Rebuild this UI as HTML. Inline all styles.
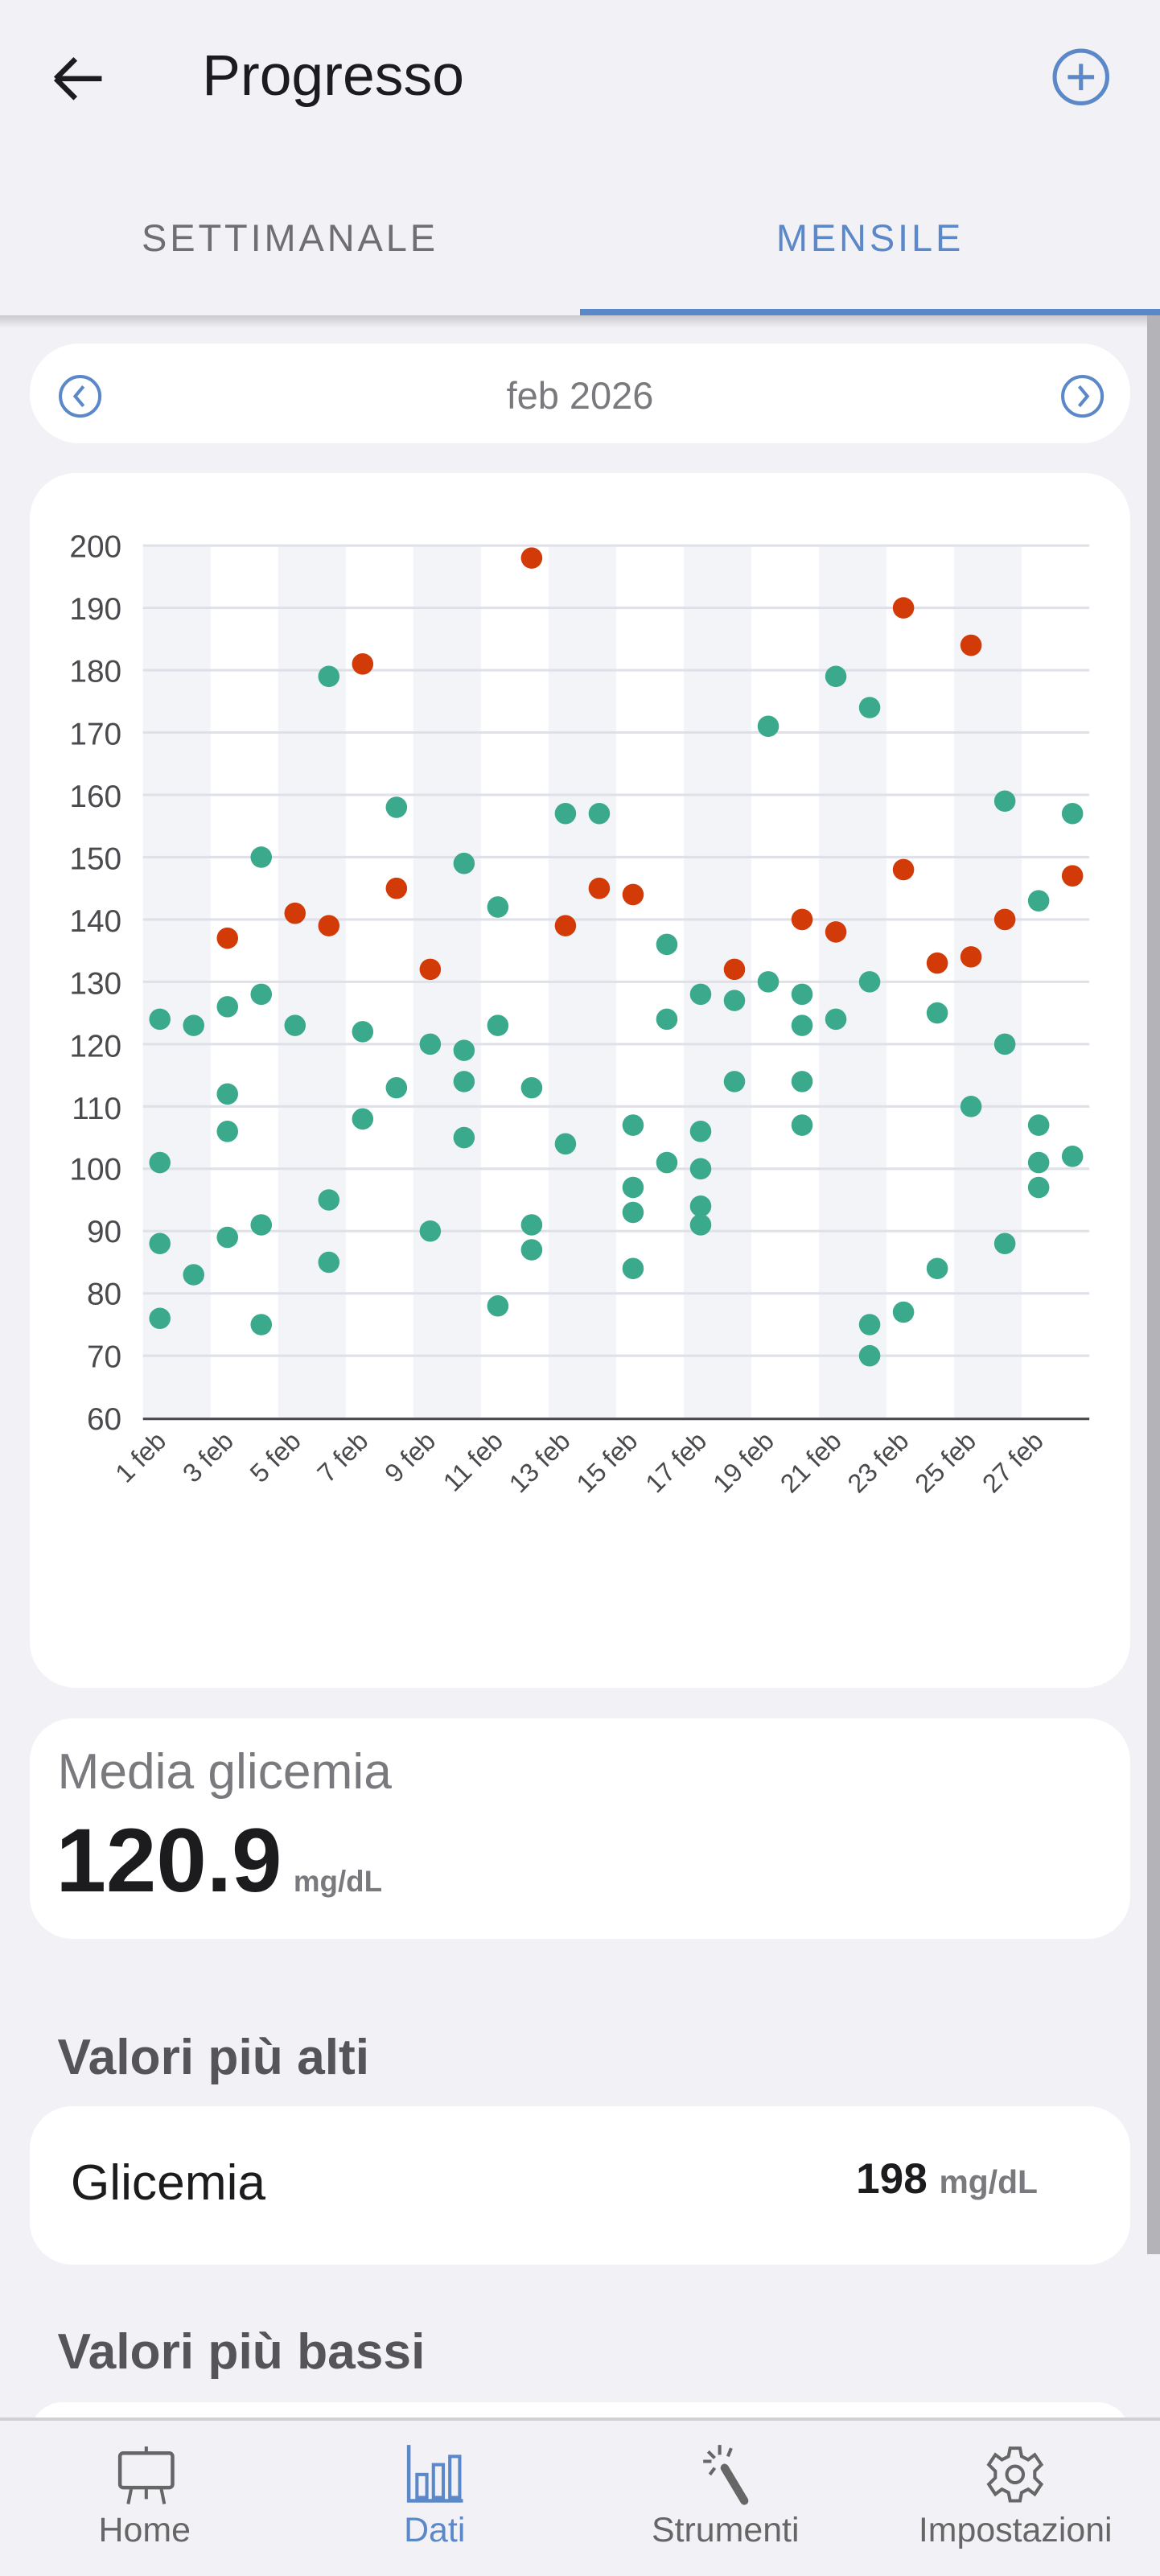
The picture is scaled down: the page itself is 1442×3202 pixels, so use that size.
<!DOCTYPE html>
<html><head><meta charset="utf-8">
<style>
html,body{margin:0;padding:0;width:1442px;height:3202px;overflow:hidden;background:#f2f1f6;}
#w{zoom:2.0425;width:706px;height:1568px;position:relative;font-family:"Liberation Sans",sans-serif;background:#f2f1f6;overflow:hidden;}
.a{position:absolute;}
.card{position:absolute;background:#fff;left:18px;width:670px;}
</style></head><body><div id="w">
<div class="a" style="left:0;top:192px;width:706px;height:8px;background:linear-gradient(#c9c9ce,rgba(242,241,246,0));"></div>
<div class="a" style="left:698px;top:192px;width:8px;height:1180px;background:#b4b4b8;"></div>
<svg class="a" style="left:28px;top:30px" width="40" height="36"><path d="M6 18H34M6 18L18 6M6 18L18 30" stroke="#1c1c1e" stroke-width="3.2" fill="none"/></svg>
<div class="a" style="left:123px;top:26px;font-size:35px;color:#1c1c1e">Progresso</div>
<svg class="a" style="left:640px;top:29px" width="36" height="36"><circle cx="18" cy="18" r="16" stroke="#5b88c9" stroke-width="2.5" fill="none"/><path d="M18 10V26M10 18H26" stroke="#5b88c9" stroke-width="2.5"/></svg>
<div class="a" style="left:0;width:353px;top:131px;text-align:center;font-size:23px;letter-spacing:1.9px;color:#6e6e73">SETTIMANALE</div>
<div class="a" style="left:353px;width:353px;top:131px;text-align:center;font-size:23px;letter-spacing:1.9px;color:#5b88c9">MENSILE</div>
<div class="a" style="left:353px;top:188px;width:353px;height:4px;background:#5b88c9"></div>

<div class="card" style="top:209px;height:61px;border-radius:30px"></div>
<svg class="a" style="left:35px;top:227px" width="28" height="28"><circle cx="14" cy="14" r="12" stroke="#5b88c9" stroke-width="2" fill="none"/><path d="M16 8L11 14L16 20" stroke="#5b88c9" stroke-width="2" fill="none"/></svg>
<svg class="a" style="left:645px;top:227px" width="28" height="28"><circle cx="14" cy="14" r="12" stroke="#5b88c9" stroke-width="2" fill="none"/><path d="M12 8L17 14L12 20" stroke="#5b88c9" stroke-width="2" fill="none"/></svg>
<div class="a" style="left:0;width:706px;top:227px;text-align:center;font-size:23px;color:#7a7a7e">feb 2026</div>

<div class="card" style="top:288px;height:739px;border-radius:28px"></div>
<svg class="a" style="left:0;top:0" width="706" height="1000" id="ch" font-family="Liberation Sans, sans-serif">
<g id="bands"></g><g id="grid"></g>
<g font-size="19" fill="#4a4a4e" text-anchor="end">
<text x="74" y="339">200</text><text x="74" y="377">190</text><text x="74" y="415">180</text><text x="74" y="453">170</text><text x="74" y="491">160</text><text x="74" y="529">150</text><text x="74" y="567">140</text><text x="74" y="605">130</text><text x="74" y="643">120</text><text x="74" y="681">110</text><text x="74" y="718">100</text><text x="74" y="756">90</text><text x="74" y="794">80</text><text x="74" y="832">70</text><text x="74" y="870">60</text>
</g>
<g font-size="16" fill="#4a4a4e" text-anchor="end">
<text transform="translate(102,878) rotate(-45)">1 feb</text>
<text transform="translate(143,878) rotate(-45)">3 feb</text>
<text transform="translate(184,878) rotate(-45)">5 feb</text>
<text transform="translate(225,878) rotate(-45)">7 feb</text>
<text transform="translate(266,878) rotate(-45)">9 feb</text>
<text transform="translate(307,878) rotate(-45)">11 feb</text>
<text transform="translate(348,878) rotate(-45)">13 feb</text>
<text transform="translate(389,878) rotate(-45)">15 feb</text>
<text transform="translate(431,878) rotate(-45)">17 feb</text>
<text transform="translate(472,878) rotate(-45)">19 feb</text>
<text transform="translate(513,878) rotate(-45)">21 feb</text>
<text transform="translate(554,878) rotate(-45)">23 feb</text>
<text transform="translate(595,878) rotate(-45)">25 feb</text>
<text transform="translate(636,878) rotate(-45)">27 feb</text>
</g>
<line x1="87" y1="863.5" x2="663" y2="863.5" stroke="#4a4a4e" stroke-width="1.5"/>
<g id="pts"></g>
</svg>

<div class="card" style="top:1046px;height:134px;border-radius:26px"></div>
<div class="a" style="left:35px;top:1061px;font-size:30.5px;color:#7a7a7e">Media glicemia</div>
<div class="a" style="left:34px;top:1100px;font-size:55px;font-weight:bold;color:#1c1c1e">120.9<span style="font-size:18px;color:#7a7a7e;margin-left:7px">mg/dL</span></div>

<div class="a" style="left:35px;top:1235px;font-size:30.5px;font-weight:bold;color:#555559">Valori più alti</div>
<div class="card" style="top:1282px;height:96px;border-radius:26px"></div>
<div class="a" style="left:43px;top:1311px;font-size:30.5px;color:#1c1c1e">Glicemia</div>
<div class="a" style="left:521px;top:1311px;font-size:26px;font-weight:bold;color:#1c1c1e">198 <span style="font-size:20px;color:#7a7a7e">mg/dL</span></div>
<div class="a" style="left:35px;top:1414px;font-size:30.5px;font-weight:bold;color:#555559">Valori più bassi</div>
<div class="card" style="top:1462px;height:40px;border-radius:26px"></div>

<div class="a" style="left:0;top:1471px;width:706px;height:97px;background:#f2f1f6;border-top:2px solid #d0d0d4"></div>
<svg class="a" style="left:70px;top:1488px" width="38" height="38"><rect x="3" y="5" width="32" height="21" rx="2" stroke="#666" stroke-width="2.2" fill="none"/><path d="M19 1V5M10 26L8 36M28 26L30 36M19 26V33" stroke="#666" stroke-width="2"/></svg>
<svg class="a" style="left:246px;top:1486px" width="38" height="40"><path d="M3 2V36H36" stroke="#5b88c9" stroke-width="2.2" fill="none"/><rect x="8" y="20" width="6" height="14" stroke="#5b88c9" stroke-width="2" fill="none"/><rect x="18" y="14" width="6" height="20" stroke="#5b88c9" stroke-width="2" fill="none"/><rect x="28" y="9" width="6" height="25" stroke="#5b88c9" stroke-width="2" fill="none"/></svg>
<svg class="a" style="left:423px;top:1486px" width="38" height="40"><path d="M18 16L30 36" stroke="#666" stroke-width="5" stroke-linecap="round"/><path d="M15 2V8M22 4L20 9M5 12H10M9 20L12 16M8 6L12 10" stroke="#666" stroke-width="2"/></svg>
<svg class="a" style="left:599px;top:1487px" width="38" height="38"><circle cx="19" cy="19" r="5" stroke="#666" stroke-width="2" fill="none"/><path d="M16 3H22L23 8L27 10L31 7L35 13L31 17V21L35 25L31 31L27 28L23 30L22 35H16L15 30L11 28L7 31L3 25L7 21V17L3 13L7 7L11 10L15 8Z" stroke="#666" stroke-width="2" fill="none"/></svg>
<div class="a" style="left:0;width:176px;top:1528px;text-align:center;font-size:21px;color:#666">Home</div>
<div class="a" style="left:176px;width:177px;top:1528px;text-align:center;font-size:21px;color:#5b88c9">Dati</div>
<div class="a" style="left:353px;width:177px;top:1528px;text-align:center;font-size:21px;color:#666">Strumenti</div>
<div class="a" style="left:530px;width:176px;top:1528px;text-align:center;font-size:21px;color:#666">Impostazioni</div>
</div>
<script>
var NS="http://www.w3.org/2000/svg";
function el(p,t,a){var e=document.createElementNS(NS,t);for(var k in a)e.setAttribute(k,a[k]);document.getElementById(p).appendChild(e);}
var dw=576/28;
for(var i=0;i<14;i+=2){el("bands","rect",{x:87+i*2*dw,y:332,width:2*dw,height:531,fill:"#f3f4f8"});}
for(var v=70;v<=200;v+=10){var y=863-(v-60)*531/140;el("grid","line",{x1:87,x2:663,y1:y,y2:y,stroke:"#dfe0e8","stroke-width":1.5});}
var G=[[124,101,88,76],[123,83],[126,112,106,89],[150,128,91,75],[123],[179,95,85],[122,108],[158,113],[120,90],[149,119,114,105],[142,123,78],[113,91,87],[157,104],[157],[107,97,93,84],[136,124,101],[128,106,100,94,91],[127,114],[171,130],[128,123,114,107],[179,124],[174,130,75,70],[77],[125,84],[110],[159,120,88],[143,107,101,97],[157,102]];
var R=[[],[],[137],[],[141],[139],[181],[145],[132],[],[],[198],[139],[145],[144],[],[],[132],[],[140],[138],[],[190,148],[133],[184,134],[140],[],[147]];
for(var d=0;d<28;d++){var x=87+(d+0.5)*dw;
G[d].forEach(function(v){el("pts","circle",{cx:x,cy:863-(v-60)*531/140,r:6.5,fill:"#3aa98c"});});
R[d].forEach(function(v){el("pts","circle",{cx:x,cy:863-(v-60)*531/140,r:6.5,fill:"#d23a08"});});}
</script>
</body></html>
